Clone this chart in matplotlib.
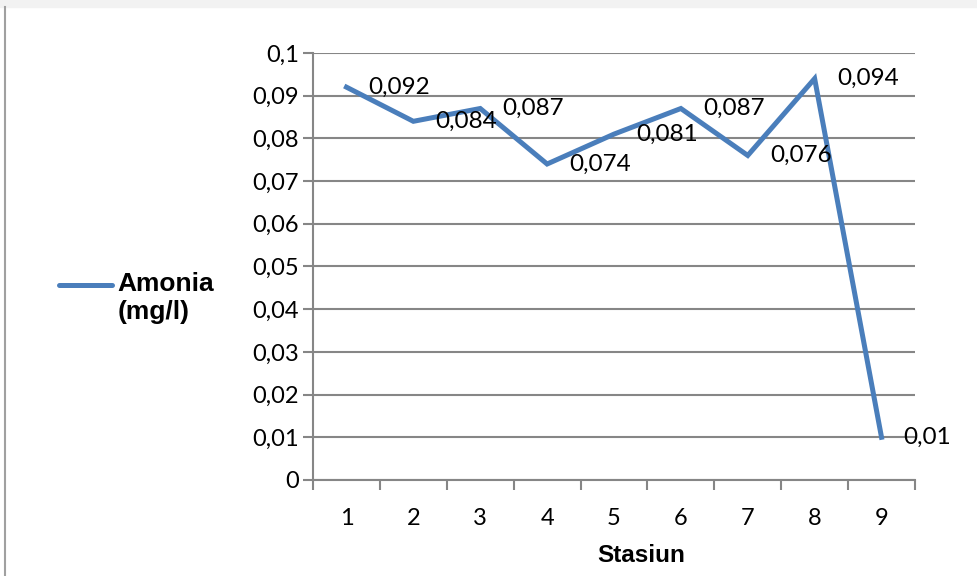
import matplotlib
matplotlib.use('Agg')
import matplotlib.pyplot as plt
from matplotlib.patches import Rectangle
from matplotlib.lines import Line2D

# data
stasiun = [1, 2, 3, 4, 5, 6, 7, 8, 9]
amonia = [0.092, 0.084, 0.087, 0.074, 0.081, 0.087, 0.076, 0.094, 0.01]
y_ticks = [0, 0.01, 0.02, 0.03, 0.04, 0.05, 0.06, 0.07, 0.08, 0.09, 0.1]

blue = '#4a7ebb'
grid_c = '#868686'
num_font = ['Lato', 'DejaVu Sans']
bold_font = ['Liberation Sans', 'DejaVu Sans']

def koma(v):
    s = ('%.3f' % v).rstrip('0').rstrip('.')
    return s.replace('.', ',')

fig = plt.figure(figsize=(9.77, 5.76), dpi=100)
ax = fig.add_axes([0.3204, 0.1667, 0.6161, 0.7413])

x = list(range(len(stasiun)))
ax.plot(x, amonia, color=blue, lw=3.6, solid_joinstyle='miter', zorder=3)

for xi, v in zip(x, amonia):
    ax.annotate(koma(v), (xi, v), xytext=(16, 0), textcoords='offset points',
                ha='left', va='center', fontsize=17.5, family=num_font, zorder=4)

ax.set_xlim(-0.5, len(stasiun) - 0.5)
ax.set_ylim(0, 0.1)
ax.set_yticks(y_ticks)
ax.set_yticklabels([koma(t) if t else '0' for t in y_ticks], family=num_font, fontsize=17)
ax.set_xticks(x)
ax.set_xticklabels([str(s) for s in stasiun], family=num_font, fontsize=17)
ax.set_xticks([i - 0.5 for i in range(len(stasiun) + 1)], minor=True)
ax.tick_params(axis='x', which='major', length=0, pad=20)
ax.tick_params(axis='x', which='minor', length=7, width=1.5, color=grid_c, direction='out')
ax.tick_params(axis='y', length=7, width=1.5, color=grid_c, direction='out', pad=3)

ax.grid(axis='y', color=grid_c, lw=1.5)
ax.set_axisbelow(True)
for side in ['top', 'right']:
    ax.spines[side].set_visible(False)
for side in ['left', 'bottom']:
    ax.spines[side].set_color(grid_c)
    ax.spines[side].set_linewidth(1.5)

fig.text(0.656, 0.035, 'Stasiun', ha='center', va='center', fontsize=17.5,
         fontweight='bold', family=bold_font)

# legend drawn by hand, Excel style (line beside first text row)
fig.lines.append(Line2D([0.060, 0.115], [0.505, 0.505], transform=fig.transFigure,
                        color=blue, lw=3.6, solid_capstyle='round'))
fig.text(0.120, 0.527, 'Amonia\n(mg/l)', ha='left', va='top', fontsize=19,
         fontweight='bold', family=bold_font, linespacing=1.2)

# scan artefacts: faint top strip and left border
fig.patches.append(Rectangle((0, 0.988), 1, 0.012, transform=fig.transFigure,
                             color='#f2f2f2', zorder=0))
fig.lines.append(Line2D([0.005, 0.005], [0, 0.988], transform=fig.transFigure,
                        color='#a0a0a0', lw=1.5))

fig.savefig('out.png', dpi=100)
